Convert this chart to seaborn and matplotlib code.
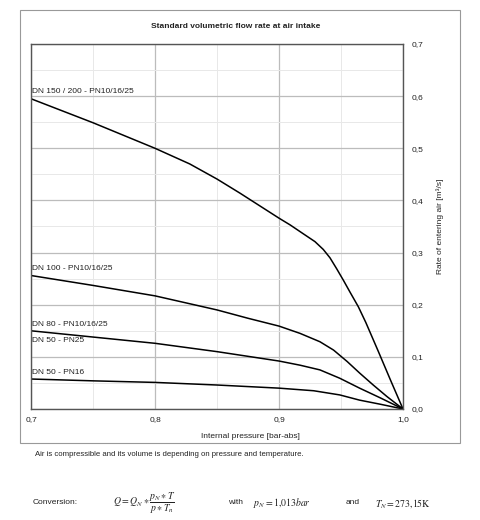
import numpy as np
import pandas as pd
import seaborn as sns
import matplotlib.pyplot as plt
from matplotlib.ticker import MultipleLocator, FuncFormatter
from matplotlib.patches import Rectangle

# Werte
p_dn150 = [0.70, 0.75, 0.80, 0.828, 0.85, 0.8685, 0.879, 0.90, 0.909, 0.9196, 0.929, 0.9357, 0.9411,
           0.9465, 0.9519, 0.9573, 0.964, 0.97, 0.98, 0.99, 1.0]
q_dn150 = [0.595, 0.549, 0.500, 0.470, 0.441, 0.414, 0.398, 0.366, 0.353, 0.336, 0.321, 0.306, 0.290,
           0.269, 0.247, 0.224, 0.196, 0.166, 0.111, 0.055, 0.0]

p_dn100 = [0.70, 0.75, 0.80, 0.85, 0.875, 0.90, 0.917, 0.933, 0.944, 0.955, 0.965, 0.976, 0.987, 1.0]
q_dn100 = [0.256, 0.237, 0.217, 0.190, 0.174, 0.159, 0.145, 0.129, 0.113, 0.091, 0.069, 0.046, 0.024, 0.0]

p_dn80 = [0.70, 0.75, 0.80, 0.85, 0.90, 0.917, 0.933, 0.949, 0.965, 0.982, 1.0]
q_dn80 = [0.150, 0.138, 0.126, 0.110, 0.092, 0.084, 0.075, 0.059, 0.040, 0.021, 0.0]

p_dn50 = [0.70, 0.75, 0.80, 0.85, 0.90, 0.928, 0.949, 0.965, 0.982, 1.0]
q_dn50 = [0.0575, 0.054, 0.051, 0.046, 0.040, 0.035, 0.027, 0.017, 0.009, 0.0]

labels = ["DN 150 / 200 - PN10/16/25", "DN 100 - PN10/16/25", "DN 80 - PN10/16/25", "DN 50 - PN16"]
label_y = [0.603, 0.262, 0.156, 0.064]
extra_label = "DN 50 - PN25"
extra_label_y = 0.138

frames = []
for name, p, q in zip(labels, [p_dn150, p_dn100, p_dn80, p_dn50], [q_dn150, q_dn100, q_dn80, q_dn50]):
    frames.append(pd.DataFrame({"p": p, "q": q, "series": name}))
df = pd.concat(frames, ignore_index=True)

sns.set_theme(style="white")
plt.rcParams['font.family'] = ['Liberation Sans', 'DejaVu Sans']
plt.rcParams['mathtext.fontset'] = 'stix'

fig = plt.figure(figsize=(4.81, 5.20), dpi=100)
ax = fig.add_axes([31/481, 1 - 409/520, 372/481, 365/520])

sns.lineplot(data=df, x="p", y="q", hue="series", palette=["black"] * 4,
             legend=False, sort=False, linewidth=1.1, ax=ax)
for ln in ax.lines:
    ln.set_solid_joinstyle("round")

ax.set_xlim(0.7, 1.0)
ax.set_ylim(0.0, 0.7)
ax.xaxis.set_major_locator(MultipleLocator(0.1))
ax.xaxis.set_minor_locator(MultipleLocator(0.05))
ax.yaxis.set_major_locator(MultipleLocator(0.1))
ax.yaxis.set_minor_locator(MultipleLocator(0.05))
ax.grid(which="major", color="#bcbcbc", linewidth=0.9)
ax.grid(which="minor", color="#e8e8e8", linewidth=0.7)
ax.set_axisbelow(True)

komma = FuncFormatter(lambda v, pos: f"{v:.1f}".replace(".", ","))
ax.xaxis.set_major_formatter(komma)
ax.yaxis.set_major_formatter(komma)
ax.yaxis.tick_right()
ax.tick_params(axis="both", which="both", length=0, labelsize=6, colors="#222222")
ax.tick_params(axis="y", pad=6)
ax.tick_params(axis="x", pad=5)
for s in ax.spines.values():
    s.set_color("#555555")
    s.set_linewidth(1.0)
ax.set_xlabel("")
ax.set_ylabel("")

for lab, y in zip(labels, label_y):
    ax.text(0.7005, y, lab, fontsize=6, color="#222222", va="bottom", ha="left")
ax.text(0.7005, extra_label_y, extra_label, fontsize=6, color="#222222", va="top", ha="left")

fig.text(236/481, 1 - 27/520, "Standard volumetric flow rate at air intake",
         fontsize=6, fontweight="bold", ha="center", va="center", color="#222222")
fig.text(250/481, 1 - 436/520, "Internal pressure [bar-abs]",
         fontsize=6, ha="center", va="center", color="#222222")
fig.text(440/481, 1 - 226/520, "Rate of entering air [m\u00b3/s]",
         fontsize=6, rotation=90, ha="center", va="center", color="#222222")

# Rahmen um das Diagramm
fig.patches.append(Rectangle((20/481, 1 - 443/520), 440/481, 433/520, transform=fig.transFigure,
                             fill=False, edgecolor="#999999", linewidth=0.8))

fig.text(35/481, 1 - 455/520, "Air is compressible and its volume is depending on pressure and temperature.",
         fontsize=5.6, ha="left", va="center", color="#222222")
fig.text(33/481, 1 - 503/520, "Conversion:", fontsize=6, ha="left", va="center", color="#222222")
fig.text(113/481, 1 - 503/520, r"$Q = Q_N \ast \dfrac{p_N \ast T}{p \ast T_n}$",
         fontsize=7, ha="left", va="center", color="#222222")
fig.text(228/481, 1 - 503/520, "with", fontsize=6, ha="left", va="center", color="#222222")
fig.text(253/481, 1 - 503/520, r"$p_N = 1{,}013 bar$", fontsize=7, ha="left", va="center", color="#222222")
fig.text(346/481, 1 - 503/520, "and", fontsize=6, ha="left", va="center", color="#222222")
fig.text(375/481, 1 - 503/520, r"$T_N = 273{,}15\mathrm{K}$", fontsize=7, ha="left", va="center", color="#222222")

fig.savefig("out.png", dpi=100, facecolor="white")
